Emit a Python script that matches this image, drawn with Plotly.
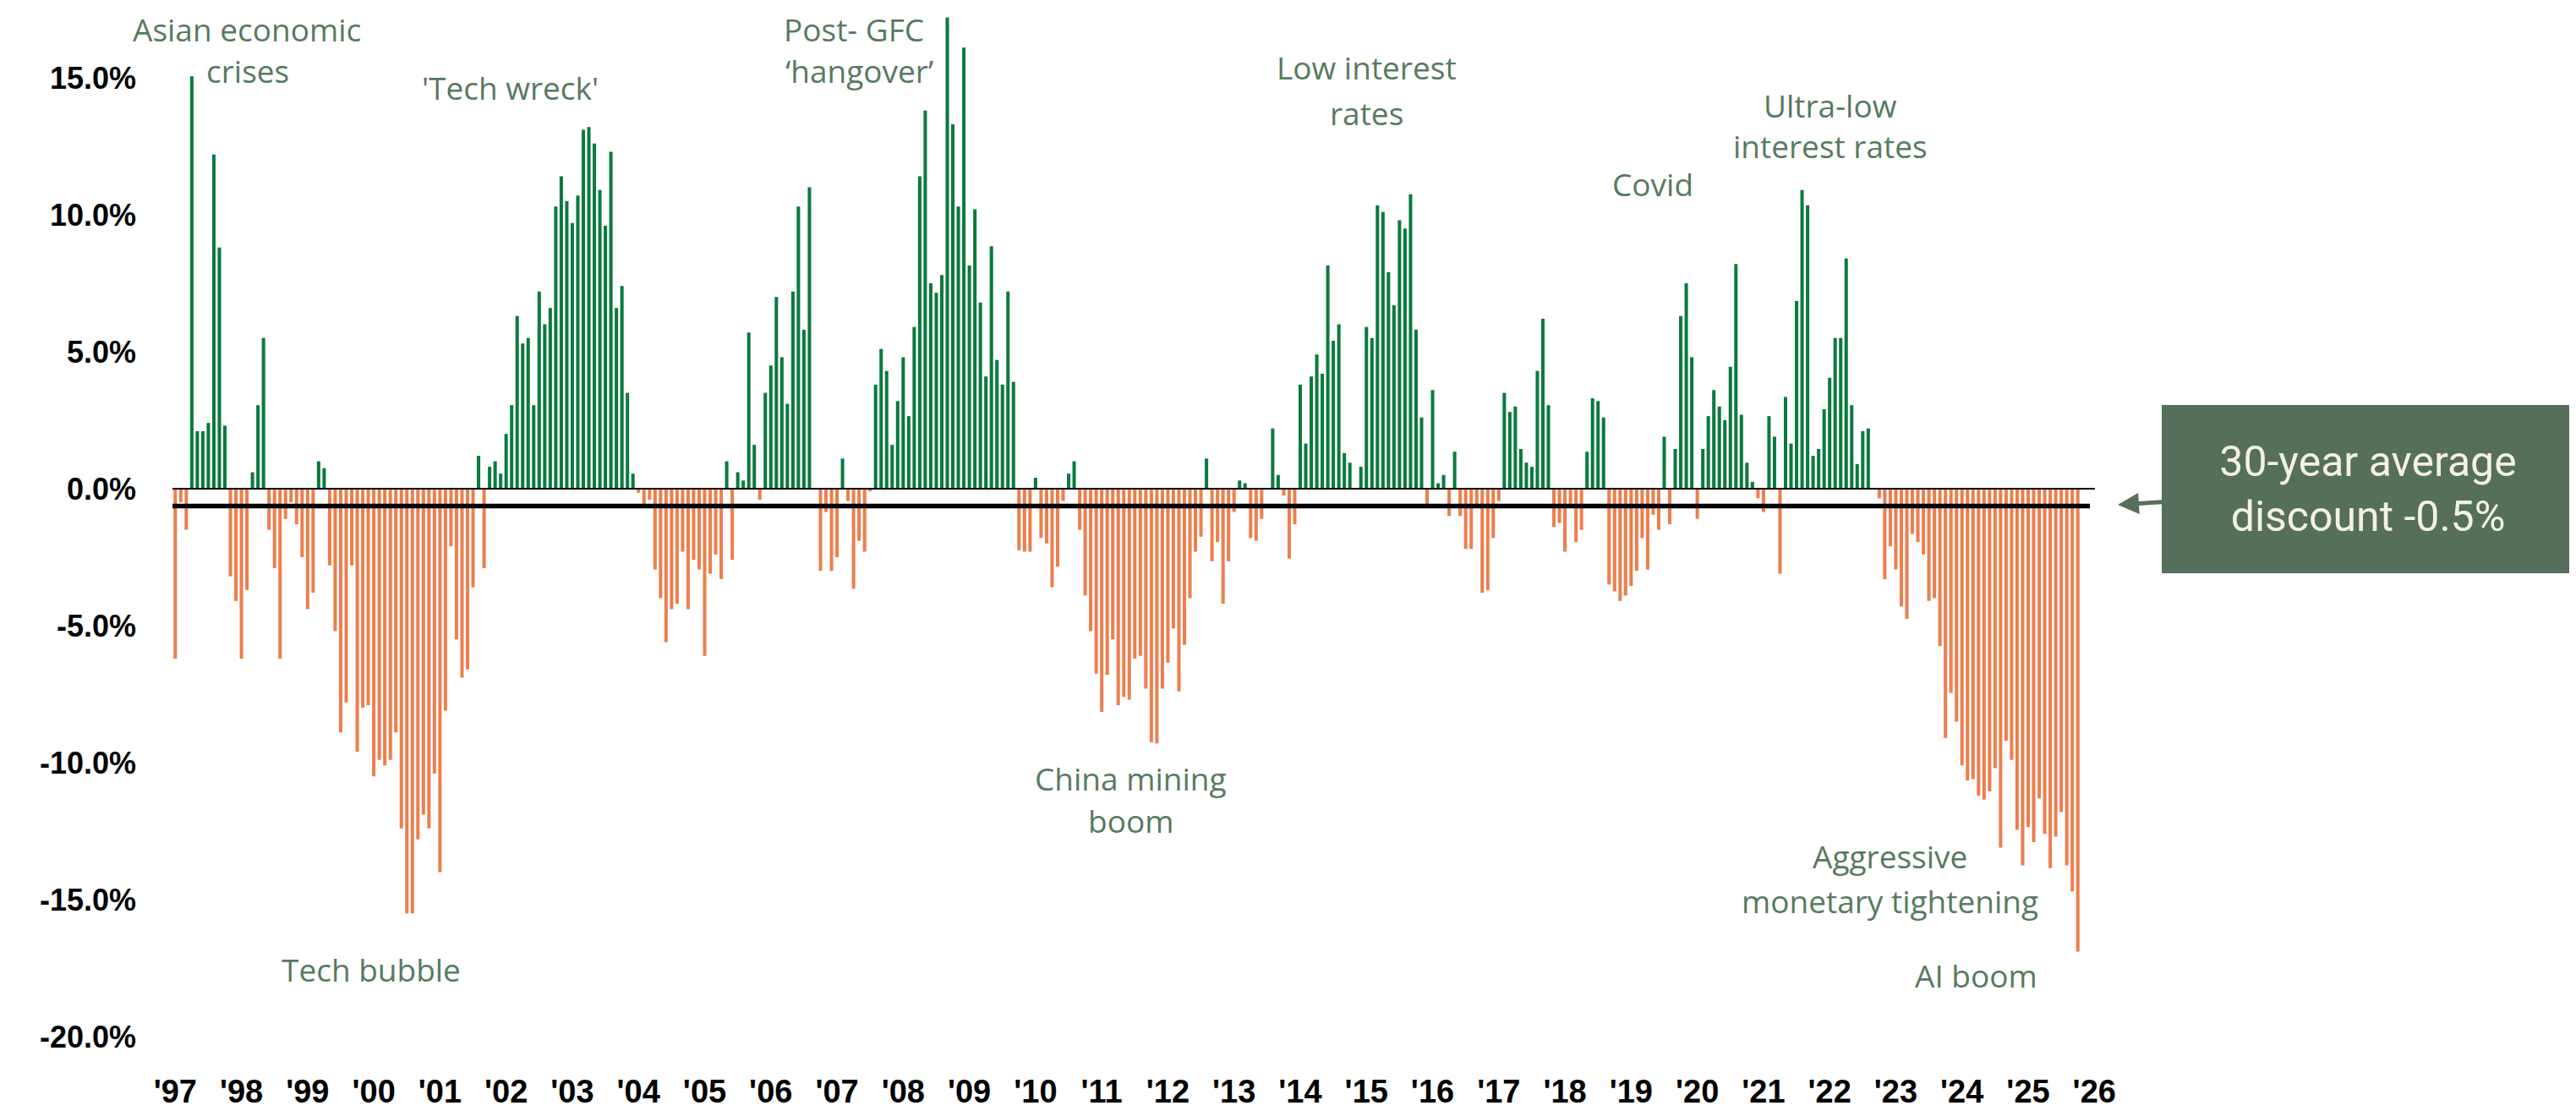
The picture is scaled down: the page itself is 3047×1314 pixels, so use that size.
import plotly.graph_objects as go

# Monthly premium/discount (%), Jan 1997 onwards
values = [
    -6.2, -0.5, -1.5, 15.05, 2.1, 2.1, 2.4, 12.2, 8.8, 2.3, -3.2, -4.1,
    -6.2, -3.7, 0.6, 3.05, 5.5, -1.5, -2.9, -6.2, -1.1, -0.5, -1.3, -2.5,
    -4.4, -3.8, 1.0, 0.75, -2.8, -5.2, -8.9, -7.8, -2.8, -9.6, -8.0, -7.9,
    -10.5, -9.9, -10.1, -9.9, -8.9, -12.4, -15.5, -15.5, -12.8, -11.9, -12.4, -10.4,
    -14.0, -8.1, -2.1, -5.5, -6.9, -6.6, -3.6, 1.2, -2.9, 0.8, 1.0, 0.55,
    2.0, 3.05, 6.3, 5.3, 5.5, 3.05, 7.2, 6.0, 6.6, 10.3, 11.4, 10.5,
    9.7, 10.7, 13.1, 13.2, 12.6, 10.9, 9.6, 12.3, 6.6, 7.4, 3.5, 0.55,
    -0.15, -0.6, -0.4, -2.95, -4.0, -5.6, -4.4, -4.2, -2.3, -4.4, -2.6, -2.95,
    -6.1, -3.1, -2.4, -3.3, 1.0, -2.6, 0.6, 0.3, 5.7, 1.6, -0.4, 3.5,
    4.5, 7.0, 4.8, 3.1, 7.2, 10.3, 5.8, 11.0, 0.0, -3.0, -0.85, -3.0,
    -2.5, 1.1, -0.45, -3.65, -1.9, -2.3, -0.1, 3.8, 5.1, 4.3, 1.6, 3.2,
    4.8, 2.65, 5.9, 11.4, 13.8, 7.5, 7.15, 7.8, 17.2, 13.3, 10.3, 16.1,
    8.15, 10.2, 6.8, 4.1, 8.85, 4.7, 3.8, 7.2, 3.9, -2.25, -2.3, -2.3,
    0.4, -1.8, -2.0, -3.6, -2.85, -0.45, 0.55, 1.0, -1.5, -3.9, -5.2, -6.75,
    -8.15, -6.8, -5.5, -7.9, -7.6, -7.7, -6.2, -6.1, -7.3, -9.25, -9.3, -7.3,
    -6.35, -5.1, -7.4, -5.7, -4.0, -2.3, -1.75, 1.1, -2.65, -1.95, -4.2, -2.65,
    -0.85, 0.3, 0.2, -1.8, -1.9, -1.1, 0.0, 2.2, 0.5, -0.25, -2.55, -1.3,
    3.8, 1.65, 4.1, 4.9, 4.2, 8.15, 5.4, 6.0, 1.3, 0.95, 0.0, 0.8,
    5.9, 5.5, 10.35, 10.1, 7.9, 6.7, 9.8, 9.5, 10.75, 5.8, 2.6, -0.6,
    3.6, 0.2, 0.5, -1.0, 1.35, -1.0, -2.2, -2.2, -0.7, -3.8, -3.7, -1.8,
    -0.45, 3.5, 2.8, 3.0, 1.45, 0.95, 0.8, 4.3, 6.2, 3.05, -1.4, -1.25,
    -2.3, -0.55, -1.95, -1.5, 1.35, 3.3, 3.2, 2.6, -3.5, -3.75, -4.1, -3.9,
    -3.55, -3.0, -1.8, -2.95, -0.95, -1.5, 1.9, -1.3, 1.45, 6.3, 7.5, 4.8,
    -1.1, 1.45, 2.65, 3.6, 3.0, 2.5, 4.45, 8.2, 2.7, 0.95, 0.25, -0.35,
    -0.85, 2.65, 1.9, -3.1, 3.35, 1.65, 6.85, 10.9, 10.35, 1.2, 1.45, 2.9,
    4.05, 5.5, 5.5, 8.4, 3.05, 0.9, 2.1, 2.2, 0.0, -0.35, -3.3, -2.1,
    -2.95, -4.3, -4.75, -1.65, -1.95, -2.4, -4.1, -4.0, -5.75, -9.1, -7.45, -8.5,
    -10.1, -10.65, -10.6, -11.2, -11.35, -11.05, -10.2, -13.1, -9.2, -9.9, -12.45, -13.75,
    -12.35, -12.9, -11.3, -12.6, -13.85, -12.7, -11.8, -13.75, -14.7, -16.9,
]
months = list(range(len(values)))

year_labels = ["'97", "'98", "'99", "'00", "'01", "'02", "'03", "'04", "'05", "'06",
               "'07", "'08", "'09", "'10", "'11", "'12", "'13", "'14", "'15", "'16",
               "'17", "'18", "'19", "'20", "'21", "'22", "'23", "'24", "'25", "'26"]
year_ticks = [12 * k for k in range(len(year_labels))]

y_ticks = [15, 10, 5, 0, -5, -10, -15, -20]
y_labels = ["15.0%", "10.0%", "5.0%", "0.0%", "-5.0%", "-10.0%", "-15.0%", "-20.0%"]

average_line = -0.63   # drawn position of the 30-year average line
average_text = "30-year average<br>discount -0.5%"

# event label lines: (text, month position, value position)
event_lines = [
    ("Asian economic", 13.0, 16.78),
    ("crises", 13.1, 15.25),
    ("'Tech wreck'", 60.7, 14.63),
    ("Post- GFC", 123.1, 16.78),
    ("‘hangover’", 124.1, 15.25),
    ("Low interest", 216.1, 15.37),
    ("rates", 216.0, 13.73),
    ("Covid", 267.9, 11.14),
    ("Ultra-low", 300.1, 14.01),
    ("interest rates", 300.1, 12.52),
    ("China mining", 173.3, -10.56),
    ("boom", 173.3, -12.1),
    ("Tech bubble", 35.5, -17.56),
    ("Aggressive", 310.9, -13.4),
    ("monetary tightening", 311.0, -15.06),
    ("AI boom", 326.6, -17.75),
]

GREEN = "#0b7a3e"
ORANGE = "#ec7f4e"
LABEL = "#577a5f"
BOX = "#566f5a"

fig = go.Figure(go.Bar(
    x=months, y=values,
    marker=dict(color=[GREEN if v >= 0 else ORANGE for v in values], line=dict(width=0)),
    width=0.62,
))

fig.add_shape(type="line", xref="x", yref="y", x0=-0.5, x1=348.1, y0=0, y1=0,
              line=dict(color="black", width=2), layer="above")
fig.add_shape(type="line", xref="x", yref="y", x0=-0.5, x1=347.2, y0=average_line, y1=average_line,
              line=dict(color="black", width=5.5), layer="above")

for text, x, y in event_lines:
    fig.add_annotation(x=x, y=y, xref="x", yref="y", text=text, showarrow=False,
                       font=dict(family="Open Sans", size=37, color=LABEL),
                       xanchor="center", yanchor="middle", align="center")

fig.add_annotation(
    x=1.0065, y=0.5266, xref="paper", yref="paper",
    text=average_text,
    showarrow=True, ax=296, ay=-18.5,
    arrowhead=2, arrowsize=1.0, arrowwidth=5, arrowcolor=BOX,
    bgcolor=BOX, bordercolor=BOX, borderpad=0, width=486, height=197,
    font=dict(family="Roboto", size=50, color="#f3f1e4"), align="center",
)

fig.update_layout(
    width=3039, height=1306,
    margin=dict(l=182, r=557, t=2, b=64),
    plot_bgcolor="white", paper_bgcolor="white",
    showlegend=False, bargap=0.38,
    xaxis=dict(range=[-2.652, 349.95], tickvals=year_ticks, ticktext=year_labels,
               showgrid=False, zeroline=False, showline=False, ticks="", automargin=False,
               tickfont=dict(family="Liberation Sans", size=38, color="black", weight="bold"),
               ticklabelstandoff=15),
    yaxis=dict(range=[-20.74, 17.53], tickvals=y_ticks, ticktext=y_labels,
               showgrid=False, zeroline=False, showline=False, ticks="", automargin=False,
               tickfont=dict(family="Liberation Sans", size=36, color="black", weight="bold"),
               ticklabelstandoff=28),
)

fig.write_html("out.html")
